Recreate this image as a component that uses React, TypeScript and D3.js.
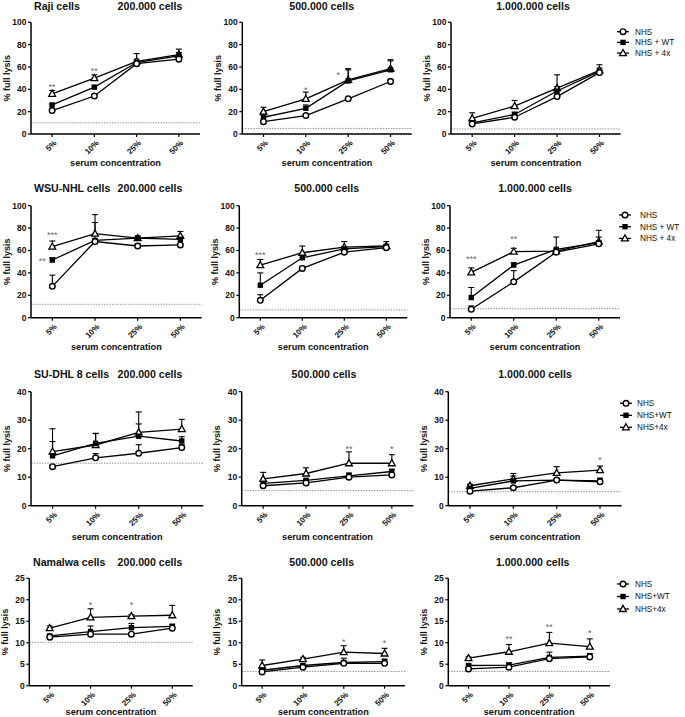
import React from "react";
import * as d3 from "d3";

const categories = ["5%", "10%", "25%", "50%"];
const legendLabelsA = ["NHS", "NHS + WT", "NHS + 4x"];
const legendLabelsB = ["NHS", "NHS+WT", "NHS+4x"];
const cellLines = ["Raji cells", "WSU-NHL cells", "SU-DHL 8 cells", "Namalwa cells"];
const cellCounts = ["200.000 cells", "500.000 cells", "1.000.000 cells"];

// series order: NHS, NHS+WT, NHS+4x
const raji200 = [[21, 34, 63, 67], [26, 42, 64, 70], [36, 50, 65, 71]];
const raji200Err = [[1, 1, 2, 2], [1, 1, 3, 3], [3, 3, 7, 5]];
const raji500 = [[11, 16.5, 31.5, 47], [15, 23, 47.5, 57.5], [20, 31.5, 48.5, 58.5]];
const raji500Err = [[1, 1, 1, 2], [2, 3, 10, 8], [4, 6, 10, 8]];
const raji1000 = [[9, 15, 33.5, 55], [10, 17.5, 38.5, 56], [14, 25, 41, 57]];
const raji1000Err = [[1, 1, 2, 2], [2, 2, 4, 3], [5, 5, 12, 5]];

const wsu200 = [[28, 68, 64, 65], [51.5, 69, 71, 70], [63.5, 75, 71, 73]];
const wsu200Err = [[10, 2, 2, 1], [2, 16, 1, 2], [5, 17, 2, 4]];
const wsu500 = [[15.5, 44, 58.5, 62.5], [29, 53.5, 61.5, 63.5], [47, 58, 63, 64]];
const wsu500Err = [[5, 2, 1, 1], [11, 3, 2, 2], [5, 6, 5, 4]];
const wsu1000 = [[7.5, 32, 58.5, 66], [18, 47, 61, 67], [40.5, 59, 59.5, 68]];
const wsu1000Err = [[3, 10, 1, 2], [9, 2, 11, 5], [4, 3, 2, 10]];

const sudhl200 = [[13.7, 16.8, 18.4, 20.4], [17.5, 21.9, 24.4, 22.7], [19, 21.3, 25.7, 26.9]];
const sudhl200Err = [[0.5, 1.5, 3, 1], [5, 3.5, 8.5, 1.5], [8, 4, 3, 3.4]];
const sudhl500 = [[7, 8, 10, 10.8], [7.8, 8.9, 10.5, 12], [9.4, 11.3, 14.9, 14.9]];
const sudhl500Err = [[0.5, 0.5, 0.5, 0.5], [0.5, 0.5, 1, 0.8], [2.3, 2, 4, 3]];
const sudhl1000 = [[5.1, 6.3, 9, 8.4], [6.1, 8.7, 9, 8.7], [7, 9.4, 11.5, 12.5]];
const sudhl1000Err = [[0.5, 0.5, 0.5, 0.5], [0.5, 2.6, 0.5, 1], [0.5, 1, 2.2, 1.4]];

const nam200 = [[11.3, 12, 12, 13.4], [11.6, 12.6, 13.5, 13.8], [13.4, 15.9, 16.2, 16.4]];
const nam200Err = [[0.3, 0.4, 0.3, 0.3], [0.3, 1.3, 1, 0.5], [0.5, 2, 0.3, 2.3]];
const nam500 = [[3.2, 4.3, 5.2, 5.2], [3.6, 4.7, 5.4, 5.6], [4.7, 6.2, 7.8, 7.5]];
const nam500Err = [[0.2, 0.2, 0.2, 0.2], [0.3, 0.3, 1, 0.6], [1.3, 0.4, 1.5, 1.2]];
const nam1000 = [[3.9, 4.3, 6.3, 6.7], [4.7, 4.8, 6.6, 6.9], [6.4, 7.9, 9.9, 9.1]];
const nam1000Err = [[0.2, 0.2, 0.3, 0.3], [0.3, 0.5, 1.2, 0.6], [0.3, 1.7, 2.5, 1.8]];

// background (no-serum) lysis level per panel
const baselines = [[10, 5, 4.5], [12, 7, 8], [14.9, 5.3, 4.9], [10.1, 3.3, 3.3]];
// y-axis maxima and steps per row
const yMaxes = [100, 100, 40, 25];
const ySteps = [20, 20, 10, 5];

// significance marks: category index, value level, label, side
type Star = { c: number; v: number; t: string; left?: boolean };
const stars: Star[][][] = [
  [[{ c: 0, v: 44, t: "**" }, { c: 1, v: 58, t: "**" }], [{ c: 1, v: 41.5, t: "*" }, { c: 2, v: 55, t: "*", left: true }], []],
  [[{ c: 0, v: 76, t: "***" }, { c: 0, v: 52.5, t: "**", left: true }], [{ c: 0, v: 58, t: "***" }], [{ c: 0, v: 54.5, t: "***" }, { c: 1, v: 72, t: "**" }]],
  [[], [{ c: 2, v: 20.7, t: "**" }, { c: 3, v: 20.7, t: "*" }], [{ c: 3, v: 16.6, t: "*" }]],
  [[{ c: 1, v: 19.2, t: "*" }, { c: 2, v: 19.2, t: "*" }], [{ c: 2, v: 10.6, t: "*" }, { c: 3, v: 10.3, t: "*" }], [{ c: 1, v: 11.3, t: "**" }, { c: 2, v: 14.2, t: "**" }, { c: 3, v: 12.8, t: "*" }]],
];

const means = [
  [raji200, raji500, raji1000],
  [wsu200, wsu500, wsu1000],
  [sudhl200, sudhl500, sudhl1000],
  [nam200, nam500, nam1000],
];
const errs = [
  [raji200Err, raji500Err, raji1000Err],
  [wsu200Err, wsu500Err, wsu1000Err],
  [sudhl200Err, sudhl500Err, sudhl1000Err],
  [nam200Err, nam500Err, nam1000Err],
];

// layout (pixels)
const rowLayout = [
  { top: 22.3, bottom: 134, titleY: 9.5, xLabelY: 166 },
  { top: 205.7, bottom: 317.7, titleY: 192, xLabelY: 350 },
  { top: 391.7, bottom: 505.7, titleY: 378, xLabelY: 540 },
  { top: 578.3, bottom: 685.7, titleY: 566, xLabelY: 715 },
];
const colLayout = [
  [[31, 200], [242.3, 411.7], [451, 620.7]],
  [[31, 201.7], [239.3, 407.3], [450, 620]],
  [[31, 203.3], [241.7, 413.3], [448.3, 621.7]],
  [[29.3, 192.7], [241.7, 405], [448.3, 610]],
];
const legendLayout = [
  { x: 623, tx: 635, y0: 31.7, dy: 10.7 },
  { x: 625, tx: 640, y0: 215, dy: 11.7 },
  { x: 626, tx: 637, y0: 403.3, dy: 12 },
  { x: 623, tx: 635, y0: 584, dy: 12.5 },
];

const FONT = "Arial, 'Liberation Sans', Helvetica, sans-serif";

function Marker({ kind, x, y }: { kind: number; x: number; y: number }) {
  if (kind === 0) return <circle cx={x} cy={y} r={2.8} fill="white" stroke="black" strokeWidth={1.4} />;
  if (kind === 1) return <rect x={x - 2.7} y={y - 2.7} width={5.4} height={5.4} fill="black" />;
  const p = d3.path();
  p.moveTo(x, y - 3.6);
  p.lineTo(x + 3.4, y + 2.5);
  p.lineTo(x - 3.4, y + 2.5);
  p.closePath();
  return <path d={p.toString()} fill="white" stroke="black" strokeWidth={1.3} />;
}

function Panel({ r, c }: { r: number; c: number }) {
  const { top, bottom, xLabelY } = rowLayout[r];
  const [x0, x1] = colLayout[r][c];
  const y = d3.scaleLinear().domain([0, yMaxes[r]]).range([bottom, top]);
  const x = d3.scalePoint<string>().domain(categories).range([x0, x1]).padding(0.5);
  const yTicks = d3.range(0, yMaxes[r] + 0.001, ySteps[r]);
  const line = d3
    .line<number>()
    .x((_, i) => x(categories[i]) as number)
    .y((d) => y(d));
  const data = means[r][c];
  const err = errs[r][c];
  const baseY = y(baselines[r][c]);
  return (
    <g>
      <line x1={x0} x2={x1} y1={baseY} y2={baseY} stroke="#8a8a8a" strokeWidth={0.9} strokeDasharray="1.5,1.2" />
      {data.map((s, k) => (
        <path key={"l" + k} d={line(s) || ""} fill="none" stroke="black" strokeWidth={1.3} />
      ))}
      {data.map((s, k) =>
        s.map((v, i) => {
          const cx = x(categories[i]) as number;
          const yt = y(v + err[k][i]);
          return (
            <g key={"e" + k + "-" + i} stroke="black" strokeWidth={1.1}>
              <line x1={cx} x2={cx} y1={y(v)} y2={yt} />
              <line x1={cx - 3} x2={cx + 3} y1={yt} y2={yt} />
            </g>
          );
        })
      )}
      {[2, 1, 0].map((k) =>
        data[k].map((v, i) => <Marker key={"m" + k + "-" + i} kind={k} x={x(categories[i]) as number} y={y(v)} />)
      )}
      {stars[r][c].map((s, i) => (
        <text
          key={"s" + i}
          x={(x(categories[s.c]) as number) + (s.left ? -10 : 0)}
          y={y(s.v) + 5}
          textAnchor="middle"
          fontSize={9}
          fill="#666"
          fontFamily={FONT}
        >
          {s.t}
        </text>
      ))}
      <line x1={x0} x2={x0} y1={top} y2={bottom} stroke="black" strokeWidth={1.5} />
      <line x1={x0} x2={x1} y1={bottom} y2={bottom} stroke="black" strokeWidth={1.5} />
      {yTicks.map((t) => (
        <g key={"yt" + t}>
          <line x1={x0 - 3} x2={x0} y1={y(t)} y2={y(t)} stroke="black" strokeWidth={1.2} />
          <text x={x0 - 4.5} y={y(t)} dy="0.35em" textAnchor="end" fontSize={8.5} fontWeight="bold" fill="#111" fontFamily={FONT}>
            {t}
          </text>
        </g>
      ))}
      {categories.map((cat) => {
        const cx = x(cat) as number;
        return (
          <g key={"xt" + cat}>
            <line x1={cx} x2={cx} y1={bottom} y2={bottom + 3} stroke="black" strokeWidth={1.2} />
            <text
              transform={`translate(${cx + 5},${bottom + 9.5}) rotate(-45)`}
              textAnchor="end"
              fontSize={8}
              fontWeight="bold"
              fill="#111"
              fontFamily={FONT}
            >
              {cat}
            </text>
          </g>
        );
      })}
      <text
        transform={`translate(${x0 - 21.5},${(top + bottom) / 2}) rotate(-90)`}
        textAnchor="middle"
        fontSize={9}
        fontWeight="bold"
        fill="#111"
        fontFamily={FONT}
      >
        % full lysis
      </text>
      <text x={(x0 + x1) / 2} y={xLabelY} textAnchor="middle" fontSize={9.2} fontWeight="bold" fill="#111" fontFamily={FONT}>
        serum concentration
      </text>
    </g>
  );
}

function Titles({ r }: { r: number }) {
  const { titleY } = rowLayout[r];
  const centers = [150, [321.7, 326.7, 324, 321.7][r], [533, 535, 535, 532.7][r]];
  return (
    <g fontFamily={FONT} fontWeight="bold" fontSize={10.6} fill="#111">
      <text x={r === 3 ? 33 : 34} y={titleY} textAnchor="start">
        {cellLines[r]}
      </text>
      {cellCounts.map((t, i) => (
        <text key={t} x={centers[i]} y={titleY} textAnchor="middle">
          {t}
        </text>
      ))}
    </g>
  );
}

function Legend({ r }: { r: number }) {
  const L = legendLayout[r];
  const labels = r < 2 ? legendLabelsA : legendLabelsB;
  return (
    <g>
      {labels.map((lab, k) => {
        const yy = L.y0 + k * L.dy;
        return (
          <g key={lab}>
            <line x1={L.x - 6} x2={L.x + 6} y1={yy} y2={yy} stroke="black" strokeWidth={1.3} />
            <Marker kind={k} x={L.x} y={yy} />
            <text x={L.tx} y={yy} dy="0.35em" fontSize={8.2} fill="#111" fontFamily={FONT}>
              {lab}
            </text>
          </g>
        );
      })}
    </g>
  );
}

export default function App() {
  return (
    <svg width={685} height={717} style={{ position: "absolute", left: 0, top: 0, background: "white" }}>
      <rect width={685} height={717} fill="white" />
      {[0, 1, 2, 3].map((r) => (
        <g key={r}>
          <Titles r={r} />
          {[0, 1, 2].map((c) => (
            <Panel key={c} r={r} c={c} />
          ))}
          <Legend r={r} />
        </g>
      ))}
    </svg>
  );
}
